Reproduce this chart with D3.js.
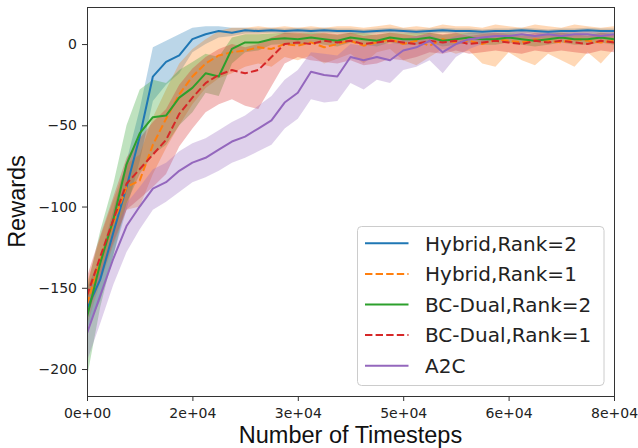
<!DOCTYPE html>
<html>
<head>
<meta charset="utf-8">
<script src="https://cdn.jsdelivr.net/npm/d3@7"></script>
<style>
body{margin:0;background:#fff;}
svg{display:block;}
</style>
</head>
<body>
<div class="canvas"></div>
<script>
// timesteps (every 2000)
const steps=[0,2000,4000,6000,8000,10000,12000,14000,16000,18000,
  20000,22000,24000,26000,28000,30000,32000,34000,36000,38000,
  40000,42000,44000,46000,48000,50000,52000,54000,56000,58000,
  60000,62000,64000,66000,68000,70000,72000,74000,76000,78000,80000];

const xTicks=[0,16000,32000,48000,64000,80000];
const yTicks=[-200,-150,-100,-50,0];

const names=['Hybrid,Rank=2','Hybrid,Rank=1','BC-Dual,Rank=2','BC-Dual,Rank=1','A2C'];
const colours=['#1f77b4','#ff7f0e','#2ca02c','#d62728','#9467bd'];
const dashed=[false,true,false,true,false];

// mean rewards + shaded band (lo / hi)
const blueMean=[-163,-145,-116,-88,-57,-20,-11,-7,3,6, 8,7,8.5,8,8.5,8,8.5,8,8.5,8, 8,7.5,8,8.5,8,7.5,8,8.5,8,8, 7.5,8,8,8.5,8,7.5,8,8,8.5,8,8];
const blueLo=[-175,-158,-130,-102,-72,-35,-25,-18,-5,0, 4,5,6.5,6.5,7,6.5,7,6.5,7,6.5, 6.5,6,6.5,7,6.5,6,6.5,7,6.5,6.5, 6,6.5,6.5,7,6.5,6,6.5,6.5,7,6.5,6.5];
const blueHi=[-150,-132,-102,-72,-40,-2,2,6,10,11, 11,10,10,9.5,10,9.5,10,9.5,10,9.5, 9.5,9,9.5,10,9.5,9,9.5,10,9.5,9.5, 9,9.5,9.5,10,9.5,9,9.5,9.5,10,9.5,9.5];

const orangeMean=[-160,-133,-110,-88,-84,-62,-46,-31,-20,-12, -7,-5,-4,-2,-3,0,-1,1,-2,0, 2,-1,1,3,0,2,-1,3,1,2, 0,3,2,1,3,2,1,3,2,1,2];
const orangeLo=[-173,-147,-124,-102,-100,-80,-64,-50,-37,-27, -21,-18,-14,-12,-14,-8,-10,-7,-12,-9, -6,-12,-5,-3,-10,-13,-8,-3,-6,-4, -12,-14,-5,-10,-13,-6,-10,-14,-5,-12,-3];
const orangeHi=[-147,-119,-96,-74,-68,-45,-28,-12,-3,3, 8,10,10,11,10,11,10,11,10,11, 11,10,11,12,10,11,10,12,11,11, 10,12,11,10,12,11,10,12,11,10,11];

const greenMean=[-168,-135,-108,-74,-55,-45,-44,-33,-27,-18, -20,-3,1,1,3,3.5,3,4,3,2, 4,3,2,4,3,3,4,2,3,4, 3,3,4,3,2,3,4,3,3,4,3];
const greenLo=[-205,-162,-130,-98,-80,-68,-62,-50,-42,-30, -32,-12,-5,-4,-0.5,0,-0.5,1,-0.5,-1.5, 1,-0.5,-1.5,1,-0.5,-0.5,1,-1.5,-0.5,1, -0.5,-0.5,1,-0.5,-1.5,-0.5,1,-0.5,-0.5,1,-0.5];
const greenHi=[-150,-115,-86,-50,-28,-22,-24,-16,-11,-6, -8,4,6,6,6.5,7,6.5,7,6.5,5.5, 7,6.5,5.5,7,6.5,6.5,7,5.5,6.5,7, 6.5,6.5,7,6.5,5.5,6.5,7,6.5,6.5,7,6.5];

const redMean=[-155,-131,-108,-86,-77,-68,-59,-43,-33,-24, -19,-16,-18,-16,-8,0,1,0,2,1, 2,0,1,2,1,0,2,1,2,0, 1,2,1,0,2,1,2,1,0,2,1];
const redLo=[-168,-145,-122,-102,-95,-88,-80,-63,-52,-42, -37,-34,-38,-40,-26,-12,-8,-10,-11,-12, -10,-13,-12,-9,-10,-8,-5,-6,-4,-6, -5,-4,-5,-6,-4,-5,-4,-5,-6,-4,-5];
const redHi=[-143,-118,-94,-70,-58,-48,-40,-25,-15,-8, -3,0,-2,0,4,7,7,6,7,6, 7,5,6,7,6,5,7,6,7,5, 6,7,6,5,7,6,7,6,5,7,6];

const purpleMean=[-178,-155,-132,-112,-100,-89,-85,-78,-73,-70, -65,-60,-57,-52,-47,-36,-30,-17,-19,-20, -8,-10,-8,-10,-4,-2,2,-5,0,3, 4,5,5,6,5,6,5,6,6,5,6];
const purpleLo=[-195,-172,-148,-128,-114,-102,-97,-91,-85,-82, -78,-73,-70,-66,-62,-52,-46,-34,-36,-35, -24,-28,-22,-24,-16,-14,-10,-18,-8,-3, 0,3,3,4,3,4,3,4,4,3,4];
const purpleHi=[-162,-140,-118,-98,-88,-77,-73,-66,-61,-58, -53,-48,-44,-38,-32,-22,-16,-5,-6,-7, 0,-1,1,0,3,5,6,2,5,7, 7,7,7,8,7,8,7,8,8,7,8];

const means=[blueMean,orangeMean,greenMean,redMean,purpleMean];
const lows=[blueLo,orangeLo,greenLo,redLo,purpleLo];
const highs=[blueHi,orangeHi,greenHi,redHi,purpleHi];

const series=names.map((name,i)=>({
  name,colour:colours[i],dashed:dashed[i],
  pts:steps.map((s,j)=>({x:s,m:means[i][j],lo:lows[i][j],hi:highs[i][j]}))
}));

const dims={width:638,height:448};
const margin={top:7,right:24,bottom:52,left:87};

const svg=d3.select('.canvas')
  .append('svg')
  .attr('width',dims.width)
  .attr('height',dims.height);

const x=d3.scaleLinear().domain([0,80000]).range([margin.left,dims.width-margin.right]);
const y=d3.scaleLinear().domain([-216.6,22.8]).range([dims.height-margin.bottom,margin.top]);

svg.append('clipPath').attr('id','clip')
  .append('rect')
  .attr('x',margin.left).attr('y',margin.top)
  .attr('width',x.range()[1]-x.range()[0])
  .attr('height',y.range()[0]-y.range()[1]);

const plot=svg.append('g').attr('clip-path','url(#clip)');

const area=d3.area().x(d=>x(d.x)).y0(d=>y(d.lo)).y1(d=>y(d.hi));
const line=d3.line().x(d=>x(d.x)).y(d=>y(d.m));

// bands sit under all the lines (like matplotlib zorder)
plot.selectAll('path.band')
  .data(series)
  .enter().append('path')
  .attr('class','band')
  .attr('d',d=>area(d.pts))
  .attr('fill',d=>d.colour)
  .attr('fill-opacity',0.3)
  .attr('stroke','none');

plot.selectAll('path.mean')
  .data(series)
  .enter().append('path')
  .attr('class','mean')
  .attr('d',d=>line(d.pts))
  .attr('fill','none')
  .attr('stroke',d=>d.colour)
  .attr('stroke-width',2)
  .attr('stroke-linejoin','round')
  .attr('stroke-dasharray',d=>d.dashed?'7.4,3.2':null);

//tick label like 2e+04
const fmtExp=v=>{
  const s=v.toExponential(0).split('e');
  const sign=s[1][0];
  const ex=s[1].slice(1).padStart(2,'0');
  return s[0]+'e'+sign+ex;
};

const xAxis=d3.axisBottom(x).tickValues(xTicks).tickFormat(fmtExp).tickSize(5).tickPadding(7);
const yAxis=d3.axisLeft(y).tickValues(yTicks).tickSize(5).tickPadding(5);

const gx=svg.append('g')
  .attr('transform',`translate(0,${y.range()[0]})`)
  .call(xAxis);
const gy=svg.append('g')
  .attr('transform',`translate(${margin.left},0)`)
  .call(yAxis);

[gx,gy].forEach(g=>{
  g.select('.domain').remove();
  g.selectAll('line').attr('stroke','#333');
  g.selectAll('text')
    .attr('fill','#222')
    .style('font-family','"DejaVu Sans",sans-serif')
    .style('font-size','14px');
});

// spines
svg.append('rect')
  .attr('x',margin.left).attr('y',margin.top)
  .attr('width',x.range()[1]-x.range()[0])
  .attr('height',y.range()[0]-y.range()[1])
  .attr('fill','none')
  .attr('stroke','#333')
  .attr('stroke-width',1)
  .attr('shape-rendering','crispEdges');

// axis labels
svg.append('text')
  .attr('x',(x.range()[0]+x.range()[1])/2)
  .attr('y',443)
  .attr('text-anchor','middle')
  .style('font-family','"Liberation Sans",Arial,sans-serif')
  .style('font-size','23.5px')
  .attr('fill','#111')
  .text('Number of Timesteps');

svg.append('text')
  .attr('transform',`translate(25,${(y.range()[0]+y.range()[1])/2}) rotate(-90)`)
  .attr('text-anchor','middle')
  .style('font-family','"Liberation Sans",Arial,sans-serif')
  .style('font-size','23.5px')
  .attr('fill','#111')
  .text('Rewards');

//legend
const legendGroup=svg.append('g').attr('transform','translate(357.5,226.5)');
legendGroup.append('rect')
  .attr('width',246.5).attr('height',159)
  .attr('rx',4).attr('ry',4)
  .attr('fill','#fff').attr('fill-opacity',0.8)
  .attr('stroke','#cccccc').attr('stroke-width',1);

const rows=legendGroup.selectAll('g.item')
  .data(series)
  .enter().append('g')
  .attr('class','item')
  .attr('transform',(d,i)=>`translate(0,${16.8+i*30.6})`);

rows.append('line')
  .attr('x1',7.5).attr('x2',51)
  .attr('y1',0).attr('y2',0)
  .attr('stroke',d=>d.colour)
  .attr('stroke-width',2)
  .attr('stroke-dasharray',d=>d.dashed?'7.4,3.2':null);

rows.append('text')
  .attr('x',67.5).attr('y',7.2)
  .style('font-family','"DejaVu Sans",sans-serif')
  .style('font-size','20px')
  .attr('fill','#222')
  .text(d=>d.name);
</script>
</body>
</html>
